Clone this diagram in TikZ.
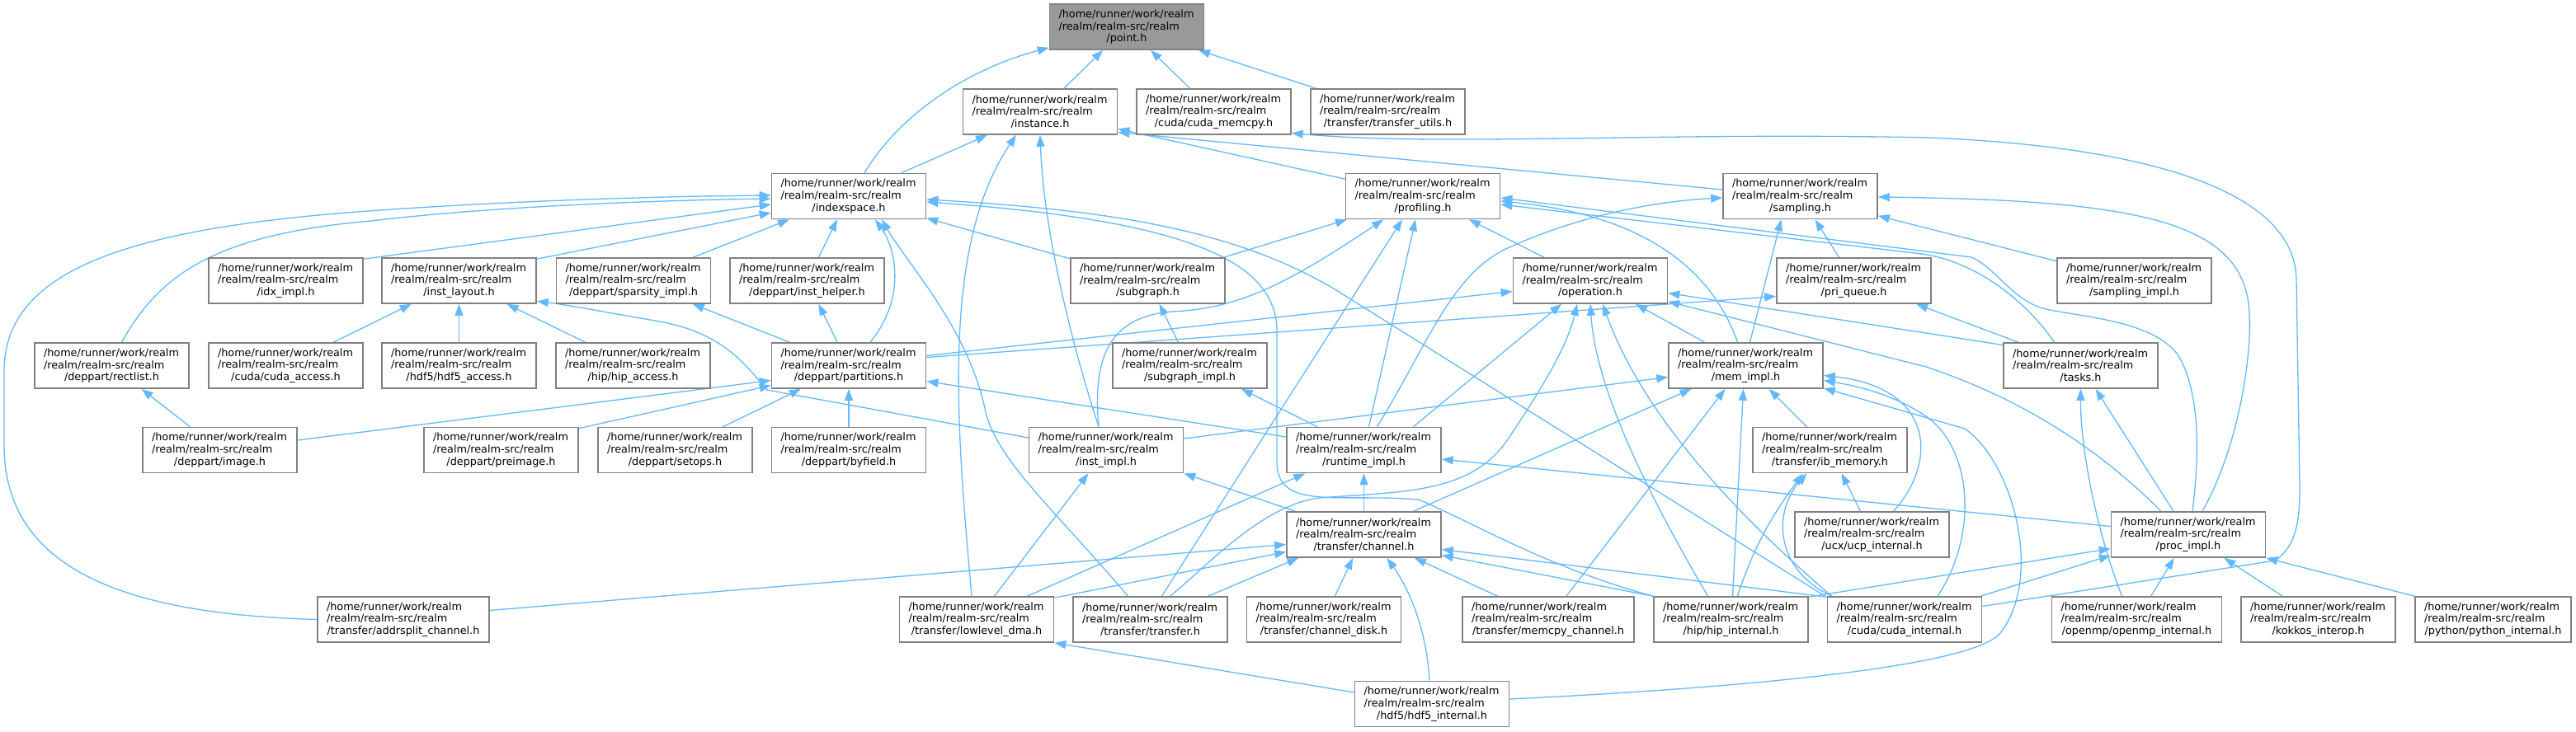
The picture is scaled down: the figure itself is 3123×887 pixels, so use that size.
\documentclass[tikz,border=0pt]{standalone}
\usepackage{fontspec}
\setmainfont{DejaVu Sans}
\usetikzlibrary{arrows.meta,calc}
\definecolor{edgeblue}{HTML}{63B8FF}
\definecolor{boxgray}{HTML}{808080}
\definecolor{rootgray}{HTML}{999999}
\pgfdeclarelayer{bg}
\pgfsetlayers{bg,main}
\newcommand{\fl}[1]{/home/runner/work/realm\\/realm/realm-src/realm\\\makebox[\linewidth]{#1}}
\begin{document}
\begin{tikzpicture}[x=1pt,y=-1pt,
  fb/.style={draw=boxgray,line width=1.6pt,fill=white,rectangle,minimum height=55pt,
    inner xsep=11pt,inner ysep=0pt,text width=165pt,align=left,
    font=\fontsize{12.8}{14.7}\selectfont},
  rootbox/.style={fb,fill=rootgray},
  edge/.style={draw=edgeblue,line width=1.3pt,-{Triangle[length=14pt,width=10pt]}}]
\useasboundingbox (0,0) rectangle (3123,887);
% row 0
\node[rootbox] (A) at (1366,32.5) {\fl{/point.h}};
% row 1
\node[fb] (B) at (1261,135.5) {\fl{/instance.h}};
\node[fb] (C) at (1471.5,135.5) {\fl{/cuda/cuda\_memcpy.h}};
\node[fb] (D) at (1682.5,135.5) {\fl{/transfer/transfer\_utils.h}};
% row 2
\node[fb] (E) at (1029,238) {\fl{/indexspace.h}};
\node[fb] (F) at (1725,238) {\fl{/profiling.h}};
\node[fb] (G) at (2182.5,238) {\fl{/sampling.h}};
% row 3
\node[fb] (H) at (346.5,340.5) {\fl{/idx\_impl.h}};
\node[fb] (I) at (556.5,340.5) {\fl{/inst\_layout.h}};
\node[fb] (J) at (768,340.5) {\fl{/deppart/sparsity\_impl.h}};
\node[fb] (K) at (978.5,340.5) {\fl{/deppart/inst\_helper.h}};
\node[fb] (L) at (1391.5,340.5) {\fl{/subgraph.h}};
\node[fb] (M) at (1928,340.5) {\fl{/operation.h}};
\node[fb] (N) at (2247.5,340.5) {\fl{/pri\_queue.h}};
\node[fb] (O) at (2587.5,340.5) {\fl{/sampling\_impl.h}};
% row 4
\node[fb] (P) at (135.5,443.5) {\fl{/deppart/rectlist.h}};
\node[fb] (Q) at (346.5,443.5) {\fl{/cuda/cuda\_access.h}};
\node[fb] (R) at (556.5,443.5) {\fl{/hdf5/hdf5\_access.h}};
\node[fb] (S) at (767.5,443.5) {\fl{/hip/hip\_access.h}};
\node[fb] (T) at (1029,443.5) {\fl{/deppart/partitions.h}};
\node[fb] (U) at (1442.5,443.5) {\fl{/subgraph\_impl.h}};
\node[fb] (V) at (2116.5,443.5) {\fl{/mem\_impl.h}};
\node[fb] (W) at (2522.5,443.5) {\fl{/tasks.h}};
% row 5
\node[fb] (X) at (266.5,546) {\fl{/deppart/image.h}};
\node[fb] (Y) at (607.5,546) {\fl{/deppart/preimage.h}};
\node[fb] (Z) at (818.5,546) {\fl{/deppart/setops.h}};
\node[fb] (AA) at (1029,546) {\fl{/deppart/byfield.h}};
\node[fb] (AB) at (1341,546) {\fl{/inst\_impl.h}};
\node[fb] (AC) at (1653.5,546) {\fl{/runtime\_impl.h}};
\node[fb] (AD) at (2218.5,546) {\fl{/transfer/ib\_memory.h}};
% row 6
\node[fb] (AE) at (1653.5,648.5) {\fl{/transfer/channel.h}};
\node[fb] (AF) at (2269.5,648.5) {\fl{/ucx/ucp\_internal.h}};
\node[fb] (AG) at (2653,648.5) {\fl{/proc\_impl.h}};
% row 7
\node[fb,text width=186pt] (AH) at (489,751.5) {\fl{/transfer/addrsplit\_channel.h}};
\node[fb] (AI) at (1184,751.5) {\fl{/transfer/lowlevel\_dma.h}};
\node[fb] (AJ) at (1394.5,751.5) {\fl{/transfer/transfer.h}};
\node[fb] (AK) at (1605,751.5) {\fl{/transfer/channel\_disk.h}};
\node[fb,text width=186pt] (AL) at (1877,751.5) {\fl{/transfer/memcpy\_channel.h}};
\node[fb] (AM) at (2098.5,751.5) {\fl{/hip/hip\_internal.h}};
\node[fb] (AN) at (2309,751.5) {\fl{/cuda/cuda\_internal.h}};
\node[fb,text width=184pt] (AO) at (2590.5,751.5) {\fl{/openmp/openmp\_internal.h}};
\node[fb] (AP) at (2810.5,751.5) {\fl{/kokkos\_interop.h}};
\node[fb,text width=167pt] (AQ) at (3022.5,751.5) {\fl{/python/python\_internal.h}};
% row 8
\node[fb] (AR) at (1736,854) {\fl{/hdf5/hdf5\_internal.h}};

\begin{pgfonlayer}{bg}
% into point.h
\draw[edge] ($(E.north)+(19,0)$) .. controls (1090,140) and (1170,85) .. ($(A.south west)+(0,-3)$);
\draw[edge] (B) -- (A);
\draw[edge] (C) -- (A);
\draw[edge] (D) -- (A);
% into instance.h
\draw[edge] (E) -- (B);
\draw[edge] ($(AI.north)+(-6,0)$) .. controls (1160,520) and (1140,300) .. ($(B.south)+(-29,0)$);
\draw[edge] ($(AB.north)+(-9,0)$) .. controls (1300,420) and (1265,280) .. (B.south);
\draw[edge] (F) -- (B);
\draw[edge] ($(G.west)+(0,-8)$) -- ($(B.east)+(0,25)$);
% into cuda_memcpy.h
\draw[edge] ($(AN.east)+(0,-16)$) -- (2758,680) .. controls (2785,662) and (2788,630) .. (2788,590) -- (2784,340) .. controls (2783,230) and (2600,178) .. (2340,167) .. controls (2000,160) and (1750,178) .. ($(C.east)+(0,26)$);
% into indexspace.h
\draw[edge] (AH.west) .. controls (150,745) and (5,690) .. (5,540) -- (5,450) .. controls (5,330) and (150,280) .. (420,258) .. controls (600,244) and (800,238) .. ($(E.west)+(0,-1)$);
\draw[edge] ($(P.north)+(12,0)$) .. controls (190,340) and (250,285) .. (450,268) .. controls (600,250) and (800,243) .. ($(E.west)+(0,3)$);
\draw[edge] ($(H.north east)+(0,2)$) -- ($(E.west)+(0,10)$);
\draw[edge] ($(I.north east)+(0,2)$) -- ($(E.west)+(0,20)$);
\draw[edge] (J) -- (E);
\draw[edge] (K) -- (E);
\draw[edge] ($(T.north)+(26,0)$) .. controls (1100,360) and (1085,300) .. ($(E.south)+(32,0)$);
\draw[edge] ($(AJ.north)+(-27,0)$) .. controls (1280,620) and (1210,560) .. (1195,500) .. controls (1175,400) and (1100,320) .. ($(E.south)+(40,0)$);
\draw[edge] (L) -- (E);
\draw[edge] ($(AN.north west)+(-2,0)$) -- (1620,352) .. controls (1500,280) and (1350,255) .. ($(E.east)+(0,4)$);
\draw[edge] (AM.north west) .. controls (1880,690) and (1790,636) .. (1720,606) .. controls (1620,598) and (1548,620) .. (1548,560) -- (1548,400) .. controls (1546,320) and (1450,268) .. ($(E.east)+(0,7)$);
% into profiling.h
\draw[edge] (L) -- (F);
\draw[edge] (M) -- (F);
\draw[edge] ($(AB.north)+(-9,0)$) .. controls (1325,440) and (1340,385) .. (1420,378) .. controls (1500,375) and (1560,345) .. ($(F.south)+(-48,0)$);
\draw[edge] ($(AJ.north)+(14,0)$) -- ($(F.south)+(-25,0)$);
\draw[edge] ($(AC.north)+(6,0)$) -- ($(F.south)+(-9,0)$);
\draw[edge] ($(V.north)+(-10,0)$) .. controls (2080,340) and (2010,262) .. ($(F.east)+(0,6)$);
\draw[edge] ($(AG.north)+(5,0)$) .. controls (2668,540) and (2665,470) .. (2640,430) .. controls (2610,390) and (2530,385) .. (2480,375) .. controls (2440,365) and (2420,325) .. (2390,312) -- ($(F.east)+(0,2)$);
\draw[edge] ($(W.north)+(-32,0)$) .. controls (2460,370) and (2400,318) .. (2330,308) -- ($(F.east)+(0,10)$);
% into sampling.h
\draw[edge] (N) -- (G);
\draw[edge] (O) -- (G);
\draw[edge] ($(V.north)+(5,0)$) -- ($(G.south)+(-23,0)$);
\draw[edge] ($(AC.north)+(16,0)$) .. controls (1730,420) and (1760,330) .. (1830,300) .. controls (1900,268) and (1990,245) .. ($(G.west)+(0,2)$);
\draw[edge] ($(AG.north)+(17,0)$) .. controls (2715,540) and (2730,430) .. (2727,380) .. controls (2722,270) and (2600,243) .. ($(G.east)+(0,1)$);
% into inst_layout.h
\draw[edge] (Q) -- (I);
\draw[edge] (R) -- (I);
\draw[edge] (S) -- (I);
\draw[edge] ($(AB.west)+(0,-15)$) -- (930,473) .. controls (905,445) and (880,405) .. (800,390) .. controls (740,380) and (690,370) .. ($(I.east)+(0,25)$);
% into sparsity_impl.h, inst_helper.h, subgraph.h
\draw[edge] (T) -- (J);
\draw[edge] (T) -- (K);
\draw[edge] (U) -- (L);
% into operation.h
\draw[edge] ($(T.east)+(0,-12)$) -- ($(M.west)+(0,13)$);
\draw[edge] ($(W.west)+(0,-25)$) -- ($(M.east)+(0,15)$);
\draw[edge] ($(AG.north)+(-33,0)$) .. controls (2560,560) and (2470,490) .. (2335,445) -- ($(M.south east)+(0,-3)$);
\draw[edge] ($(AC.north)+(60,0)$) -- ($(M.south)+(-35,0)$);
\draw[edge] ($(AJ.north)+(24,0)$) .. controls (1460,690) and (1530,612) .. (1600,604) .. controls (1700,596) and (1785,600) .. (1830,530) .. controls (1870,470) and (1900,420) .. ($(M.south)+(-16,0)$);
\draw[edge] ($(AM.north)+(-28,0)$) .. controls (2010,620) and (1935,480) .. (M.south);
\draw[edge] ($(AN.north west)+(6,0)$) .. controls (2100,620) and (1990,500) .. ($(M.south)+(15,0)$);
\draw[edge] ($(V.north)+(-50,0)$) -- ($(M.south)+(55,0)$);
% into pri_queue.h
\draw[edge] ($(T.east)+(0,-10)$) -- ($(N.west)+(0,19)$);
\draw[edge] (W) -- (N);
% into rectlist.h
\draw[edge] (X) -- (P);
% into partitions.h
\draw[edge] ($(X.east)+(0,-12)$) -- ($(T.west)+(0,18)$);
\draw[edge] ($(Y.north east)+(0,2)$) -- ($(T.west)+(0,24)$);
\draw[edge] (Z) -- (T);
\draw[edge] (AA) -- (T);
\draw[edge] ($(AC.west)+(0,-16)$) -- ($(T.east)+(0,19)$);
% into subgraph_impl.h
\draw[edge] ($(AC.north west)+(38,0)$) -- ($(U.south east)+(-32,0)$);
% into mem_impl.h
\draw[edge] ($(AB.east)+(0,-14)$) -- ($(V.west)+(0,14)$);
\draw[edge] ($(AE.north)+(60,0)$) -- ($(V.south)+(-66,0)$);
\draw[edge] ($(AL.north)+(22,0)$) -- ($(V.south)+(-25,0)$);
\draw[edge] ($(AM.north)+(2,0)$) -- ($(V.south)+(-3,0)$);
\draw[edge] (AD) -- (V);
\draw[edge] ($(AF.north)+(26,0)$) .. controls (2350,560) and (2345,470) .. ($(V.east)+(0,12)$);
\draw[edge] ($(AN.north)+(40,0)$) .. controls (2398,650) and (2392,545) .. (2335,505) .. controls (2295,478) and (2250,468) .. ($(V.east)+(0,18)$);
\draw[edge] ($(AR.east)+(0,-6)$) .. controls (2100,835) and (2390,810) .. (2425,768) .. controls (2478,700) and (2440,560) .. (2382,520) -- ($(V.south east)+(0,-1)$);
% into tasks.h
\draw[edge] (AG) -- (W);
\draw[edge] ($(AO.north)+(-18,0)$) .. controls (2540,640) and (2522,540) .. (W.south);
% into inst_impl.h
\draw[edge] ($(AE.north west)+(11,0)$) -- (AB.south east);
\draw[edge] (AI) -- (AB);
% into runtime_impl.h
\draw[edge] ($(AI.north east)+(-33,0)$) -- ($(AC.south west)+(23,0)$);
\draw[edge] (AE) -- (AC);
\draw[edge] ($(AG.west)+(0,-10)$) -- ($(AC.east)+(0,11)$);
% into ib_memory.h
\draw[edge] ($(AM.north)+(8,0)$) .. controls (2130,650) and (2160,610) .. ($(AD.south)+(-33,0)$);
\draw[edge] ($(AN.north west)+(6,0)$) .. controls (2150,690) and (2150,620) .. ($(AD.south)+(-28,0)$);
\draw[edge] (AF) -- (AD);
% into channel.h
\draw[edge] ($(AH.east)+(0,-11)$) -- ($(AE.west)+(0,12)$);
\draw[edge] ($(AI.north east)+(0,2)$) -- ($(AE.west)+(0,21)$);
\draw[edge] ($(AJ.north)+(70,0)$) -- ($(AE.south west)+(15,0)$);
\draw[edge] (AK) -- (AE);
\draw[edge] ($(AR.north)+(-3,0)$) .. controls (1730,770) and (1712,720) .. ($(AE.south)+(28,0)$);
\draw[edge] (AL) -- (AE);
\draw[edge] (AM.north west) -- ($(AE.east)+(0,25)$);
\draw[edge] ($(AN.north west)+(0,1)$) -- ($(AE.east)+(0,18)$);
% into proc_impl.h
\draw[edge] (AO) -- (AG);
\draw[edge] (AP) -- (AG);
\draw[edge] (AQ.north west) -- (AG.south east);
\draw[edge] ($(AN.north east)+(-2,0)$) -- ($(AG.south west)+(0,-3)$);
\draw[edge] ($(AM.north east)+(0,1)$) -- ($(AG.west)+(0,17)$);
% into lowlevel_dma.h
\draw[edge] ($(AR.west)+(0,-14)$) -- (AI.south east);
\end{pgfonlayer}
\end{tikzpicture}
\end{document}
